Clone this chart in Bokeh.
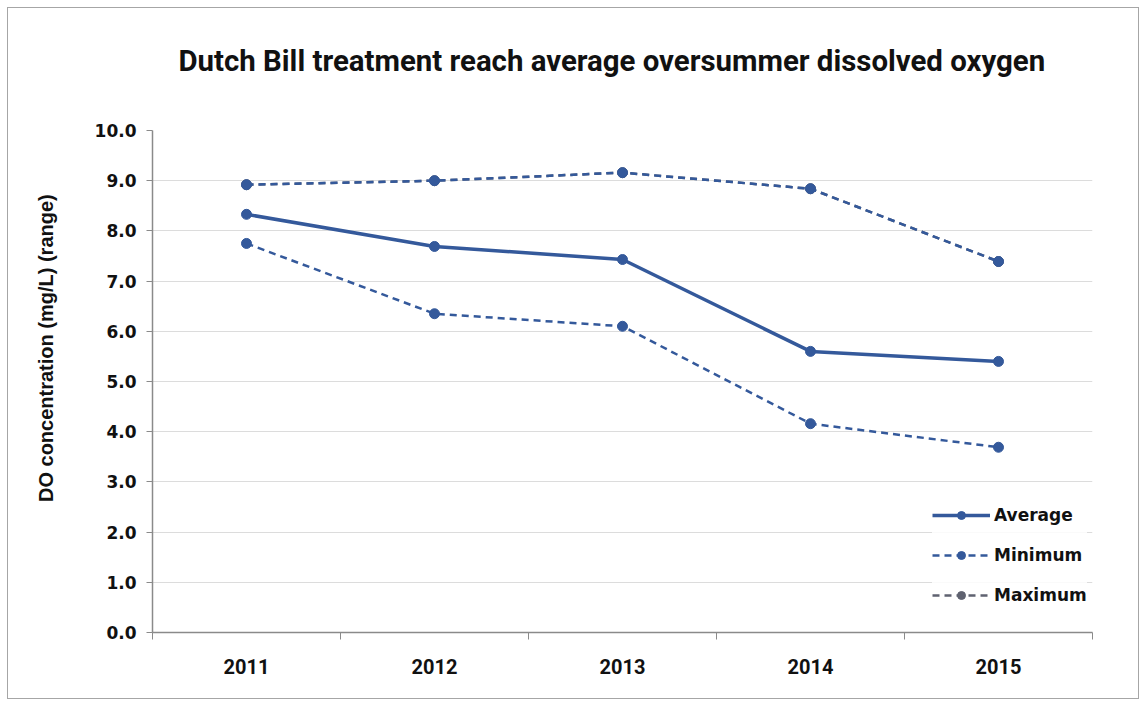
from bokeh.plotting import figure
from bokeh.models import FixedTicker, Range1d, Legend, LegendItem, Title, ColumnDataSource
from bokeh.embed import file_html
from bokeh.resources import INLINE

years = ["2011", "2012", "2013", "2014", "2015"]
average = [8.33, 7.69, 7.43, 5.60, 5.40]
maximum = [8.92, 9.00, 9.16, 8.84, 7.39]
minimum = [7.75, 6.35, 6.10, 4.16, 3.69]
y_ticks = [0, 1, 2, 3, 4, 5, 6, 7, 8, 9, 10]

BLUE = "#34599b"
GREY = "#5f6270"
AXIS = "#8a8a8a"

x = [i + 0.5 for i in range(len(years))]
src = ColumnDataSource(dict(x=x, avg=average, mx=maximum, mn=minimum))

p = figure(width=1132, height=692, output_backend="svg", toolbar_location=None,
           x_range=Range1d(0, len(years)), y_range=Range1d(0, 10),
           min_border_left=144, min_border_right=48, min_border_top=122, min_border_bottom=68)
p.styles = {"border": "1px solid #a6a6a6", "margin-left": "7px", "margin-top": "7px"}
p.outline_line_color = None
p.background_fill_color = "white"
p.border_fill_color = "white"

# spacer between the frame and the title
spacer = Title(text=" ", text_font_size="20px", standoff=0)
p.add_layout(spacer, "above")
title = Title(text="Dutch Bill treatment reach average oversummer dissolved oxygen",
              text_font="Roboto", text_font_size="29.4px", text_font_style="bold",
              text_color="#111111", align="left", standoff=58, offset=26)
p.add_layout(title, "above")

# x axis
p.xaxis.ticker = FixedTicker(ticks=x, minor_ticks=list(range(len(years) + 1)))
p.xaxis.major_label_overrides = {xx: yr for xx, yr in zip(x, years)}
p.xaxis.major_tick_line_color = None
p.xaxis.major_tick_out = 0
p.xaxis.minor_tick_out = 7
p.xaxis.minor_tick_in = 0
p.xaxis.minor_tick_line_color = AXIS
p.xaxis.axis_line_color = AXIS
p.xaxis.axis_line_width = 1.5
p.xaxis.major_label_text_font = "Roboto"
p.xaxis.major_label_text_font_style = "bold"
p.xaxis.major_label_text_font_size = "20px"
p.xaxis.major_label_text_color = "#111111"
p.xaxis.major_label_standoff = 19
p.xgrid.grid_line_color = None

# y axis
p.yaxis.ticker = FixedTicker(ticks=y_ticks)
p.yaxis.major_label_overrides = {t: f"{t:.1f}" for t in y_ticks}
p.yaxis.minor_tick_line_color = None
p.yaxis.major_tick_out = 6
p.yaxis.major_tick_in = 0
p.yaxis.major_tick_line_color = AXIS
p.yaxis.axis_line_color = AXIS
p.yaxis.axis_line_width = 1.5
p.yaxis.major_label_text_font = "DejaVu Sans"
p.yaxis.major_label_text_font_style = "bold"
p.yaxis.major_label_text_font_size = "17px"
p.yaxis.major_label_text_color = "#111111"
p.yaxis.major_label_standoff = 10
# leading no-break spaces shift the rotated label upward, as in the original
p.yaxis.axis_label = "\u00a0" * 13 + "DO concentration  (mg/L) (range)"
p.yaxis.axis_label_text_font = "Liberation Sans"
p.yaxis.axis_label_text_font_style = "bold"
p.yaxis.axis_label_text_font_size = "20px"
p.yaxis.axis_label_text_color = "#111111"
p.yaxis.axis_label_standoff = 35
p.ygrid.grid_line_color = "#dcdcdc"
p.ygrid.grid_line_width = 1

r_avg = p.line("x", "avg", source=src, color=BLUE, line_width=3.5)
s_avg = p.scatter("x", "avg", source=src, color=BLUE, size=10)
r_min = p.line("x", "mn", source=src, color=BLUE, line_width=2.5, line_dash="7 5")
s_min = p.scatter("x", "mn", source=src, color=BLUE, size=10)
# grey renderers (legend swatch for Maximum), covered by the blue series drawn on top
g_max = p.line("x", "mx", source=src, color=GREY, line_width=2.5, line_dash="7 5")
gs_max = p.scatter("x", "mx", source=src, color=GREY, size=10)
r_max = p.line("x", "mx", source=src, color=BLUE, line_width=2.5, line_dash="7 5")
s_max = p.scatter("x", "mx", source=src, color=BLUE, size=10)

legend = Legend(items=[
    LegendItem(label="Average", renderers=[r_avg, s_avg]),
    LegendItem(label="Minimum", renderers=[r_min, s_min]),
    LegendItem(label="Maximum", renderers=[g_max, gs_max]),
], location=(780, 27))
legend.border_line_color = None
legend.background_fill_alpha = 0.85
legend.label_text_font = "DejaVu Sans"
legend.label_text_font_style = "bold"
legend.label_text_font_size = "17px"
legend.label_text_color = "#111111"
legend.glyph_width = 58
legend.glyph_height = 20
legend.label_height = 20
legend.spacing = 20
legend.label_standoff = 4
legend.padding = 6
p.add_layout(legend, "center")

open("out.html", "w").write(file_html(p, INLINE))
